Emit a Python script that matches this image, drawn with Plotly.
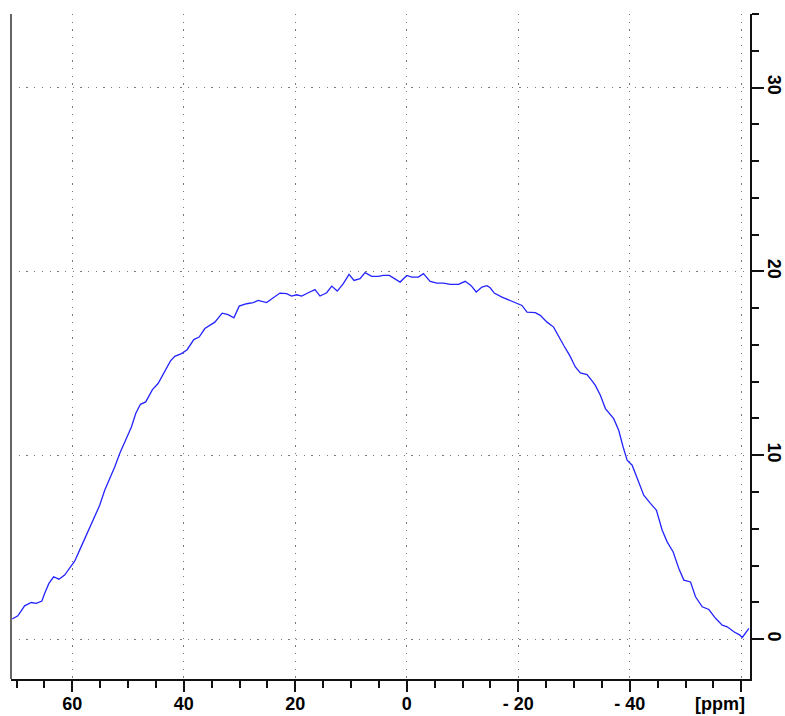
import plotly.graph_objects as go

# 1D spectrum trace: chemical shift (ppm) and intensity
shift_ppm = [
    70.77, 69.77, 68.56, 67.36, 66.46, 65.46, 64.97, 64.20, 63.36, 62.40,
    61.38, 60.48, 59.58, 58.69, 57.79, 56.89, 55.99, 55.09, 54.19, 53.30,
    52.40, 51.50, 50.30, 49.40, 48.63, 47.78, 46.83, 45.63, 44.62, 43.42,
    42.39, 41.62, 40.42, 39.41, 38.21, 37.25, 36.23, 34.43, 33.12, 32.05,
    31.02, 30.07, 28.74, 27.56, 26.66, 25.15, 23.96, 22.76, 21.56, 20.66,
    19.76, 18.86, 17.68, 16.47, 15.57, 14.37, 13.47, 12.47, 11.39, 10.36,
    9.47, 8.39, 7.49, 6.29, 5.10, 4.20, 3.13, 2.10, 1.20, 0.00,
    -0.90, -2.08, -2.98, -4.19, -5.39, -6.57, -7.78, -9.27, -10.47, -11.50,
    -12.45, -13.47, -14.37, -14.96, -15.68, -17.06, -18.25, -19.45, -20.66, -21.56,
    -23.05, -23.94, -25.15, -26.33, -27.23, -28.13, -29.21, -30.23, -31.13, -32.33,
    -33.23, -33.82, -34.72, -35.62, -37.11, -38.01, -38.80, -39.52, -40.42, -41.32,
    -42.50, -43.70, -44.78, -45.81, -46.70, -47.78, -48.79, -49.69, -50.89, -51.79,
    -52.99, -54.18, -55.38, -56.58, -57.48, -58.67, -59.75, -60.18, -60.77, -61.36,
]
intensity = [
    1.09, 1.27, 1.81, 1.99, 1.94, 2.07, 2.48, 3.03, 3.39, 3.26,
    3.48, 3.84, 4.24, 4.84, 5.47, 6.07, 6.68, 7.28, 8.10, 8.68,
    9.36, 10.09, 10.91, 11.54, 12.27, 12.77, 12.90, 13.57, 13.90, 14.53,
    15.13, 15.38, 15.53, 15.74, 16.29, 16.43, 16.89, 17.24, 17.73, 17.65,
    17.48, 18.11, 18.24, 18.30, 18.42, 18.30, 18.55, 18.82, 18.79, 18.66,
    18.73, 18.66, 18.84, 19.01, 18.66, 18.84, 19.20, 18.93, 19.33, 19.84,
    19.51, 19.60, 19.93, 19.73, 19.73, 19.78, 19.78, 19.60, 19.42, 19.78,
    19.69, 19.69, 19.88, 19.46, 19.36, 19.36, 19.29, 19.29, 19.46, 19.24,
    18.88, 19.15, 19.22, 19.11, 18.82, 18.60, 18.46, 18.28, 18.15, 17.79,
    17.76, 17.61, 17.24, 16.97, 16.43, 15.98, 15.43, 14.80, 14.48, 14.39,
    14.04, 13.80, 13.26, 12.54, 11.99, 11.36, 10.45, 9.73, 9.46, 8.73,
    7.83, 7.38, 7.01, 5.92, 5.29, 4.74, 3.84, 3.21, 3.11, 2.30,
    1.76, 1.61, 1.13, 0.76, 0.67, 0.40, 0.22, 0.09, 0.31, 0.58,
]

# Axis ticks
x_tick_vals = [60, 40, 20, 0, -20, -40, -60]
x_tick_text = ["60", "40", "20", "0", "- 20", "- 40", ""]
y_tick_vals = [0, 10, 20, 30]
y_tick_text = ["0", "10", "20", "30"]
y_minor_vals = [2, 4, 6, 8, 12, 14, 16, 18, 22, 24, 26, 28, 32, 34]
unit_label = "[ppm]"

tick_font = dict(family="Liberation Sans, Arial, sans-serif", size=18,
                 color="black", weight="bold")
grid_dash = "1.3px,6.4px"

fig = go.Figure()
fig.add_trace(go.Scatter(
    x=shift_ppm, y=intensity, mode="lines",
    line=dict(color="#2424ff", width=1.3),
    hoverinfo="skip", showlegend=False,
))

fig.update_layout(
    width=785, height=716,
    margin=dict(l=11, r=35, t=14, b=37, autoexpand=False),
    paper_bgcolor="white", plot_bgcolor="white",
    xaxis=dict(
        range=[71.0, -61.56], autorange=False, automargin=False,
        tickmode="array", tickvals=x_tick_vals, ticktext=x_tick_text,
        ticks="outside", ticklen=11, tickwidth=1.5, tickcolor="#111",
        minor=dict(dtick=5, tick0=0, ticks="outside", ticklen=7,
                   tickwidth=1.5, tickcolor="#111", showgrid=False),
        showline=True, linecolor="#111", linewidth=1.5,
        showgrid=True, gridcolor="#7a7a7a", gridwidth=1, griddash=grid_dash,
        zeroline=False, tickfont=tick_font, ticklabelstandoff=-3,
    ),
    yaxis=dict(
        range=[-2.17, 34], autorange=False, side="right", automargin=False,
        tickmode="array", tickvals=y_tick_vals, ticktext=y_tick_text,
        tickangle=90,
        ticks="outside", ticklen=12, tickwidth=1.5, tickcolor="#111",
        minor=dict(tickmode="array", tickvals=y_minor_vals, ticks="outside",
                   ticklen=7, tickwidth=1.5, tickcolor="#111", showgrid=False),
        showline=True, linecolor="#111", linewidth=1.5,
        showgrid=True, gridcolor="#7a7a7a", gridwidth=1, griddash=grid_dash,
        zeroline=False, tickfont=tick_font, ticklabelstandoff=-3,
    ),
    shapes=[dict(type="line", xref="paper", yref="paper", x0=0, x1=0, y0=0, y1=1,
                 line=dict(color="#666", width=2))],
    annotations=[dict(text=unit_label, xref="paper", yref="paper",
                      x=0.996, y=-0.0376, xanchor="right", yanchor="middle",
                      showarrow=False, font=tick_font)],
)

fig.write_html("out.html")
